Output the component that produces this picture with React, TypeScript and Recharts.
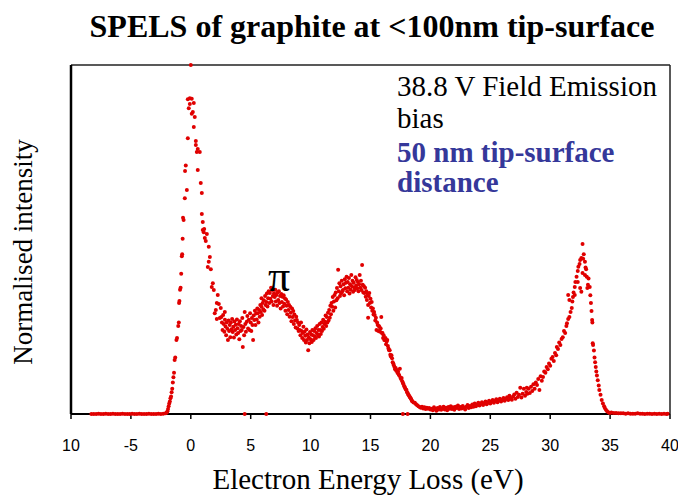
import { ScatterChart, Scatter, XAxis, YAxis, ReferenceLine } from 'recharts'

type Pt = [number, number]

// energy loss (eV), normalised intensity
const preEdge: Pt[] = [
  [-8.3, 0], [-8.1, 0], [-7.9, 0], [-7.7, 0.001], [-7.5, 0], [-7.3, 0], [-7.1, 0.001], [-6.9, 0],
  [-6.7, 0], [-6.5, 0.001], [-6.3, 0], [-6.1, 0], [-5.9, 0], [-5.7, 0.001], [-5.5, 0], [-5.3, 0],
  [-5.1, 0], [-4.9, 0.001], [-4.7, 0], [-4.5, 0], [-4.3, 0.001], [-4.1, 0], [-3.9, 0], [-3.7, 0],
  [-3.5, 0.001], [-3.3, 0], [-3.1, 0], [-2.9, 0], [-2.7, 0.001], [-2.5, 0], [-2.3, 0.001], [-2.1, 0.002],
]

const zeroLossRise: Pt[] = [
  [-2.0, 0.004], [-1.95, 0.008], [-1.9, 0.014], [-1.85, 0.022], [-1.8, 0.03], [-1.75, 0.036],
  [-1.7, 0.045], [-1.65, 0.05], [-1.6, 0.062], [-1.55, 0.072], [-1.5, 0.09], [-1.45, 0.105],
  [-1.4, 0.118], [-1.35, 0.155], [-1.3, 0.162], [-1.2, 0.212], [-1.15, 0.218], [-1.05, 0.252],
  [-1.0, 0.262], [-0.98, 0.318], [-0.95, 0.324], [-0.9, 0.356], [-0.85, 0.362], [-0.8, 0.402],
  [-0.75, 0.452], [-0.72, 0.458], [-0.68, 0.502], [-0.65, 0.562], [-0.6, 0.556], [-0.5, 0.618],
  [-0.48, 0.696], [-0.42, 0.712], [-0.33, 0.642], [-0.25, 0.79], [-0.25, 0.902], [-0.17, 0.876],
  [-0.08, 0.888], [-0.08, 0.905],
]

const zeroLossFall: Pt[] = [
  [0.0, 1.0], [0.08, 0.903], [0.08, 0.86], [0.17, 0.865], [0.25, 0.891], [0.25, 0.822],
  [0.33, 0.851], [0.42, 0.782], [0.42, 0.771], [0.5, 0.751], [0.58, 0.759], [0.58, 0.699],
  [0.75, 0.751], [0.83, 0.662], [0.92, 0.633], [0.92, 0.573], [1.0, 0.55], [1.0, 0.527],
  [1.08, 0.521], [1.12, 0.53], [1.17, 0.504], [1.25, 0.496], [1.34, 0.516], [1.42, 0.421],
  [1.5, 0.479], [1.5, 0.436], [1.59, 0.45], [1.67, 0.415], [1.75, 0.364], [1.84, 0.375],
  [1.92, 0.355], [2.0, 0.289], [2.09, 0.298], [2.17, 0.318], [2.17, 0.272], [2.25, 0.341],
  [2.34, 0.315], [2.42, 0.275], [2.5, 0.304], [2.55, 0.278], [2.84, 0.292],
]

const firstValley: Pt[] = [
  [2.6, 0.262], [2.65, 0.241], [2.7, 0.284], [2.75, 0.258], [2.8, 0.236], [2.85, 0.27],
  [2.9, 0.251], [2.95, 0.226], [3.0, 0.262], [3.05, 0.244], [3.1, 0.212], [3.15, 0.268],
  [3.2, 0.238], [3.25, 0.255], [3.3, 0.22], [3.35, 0.262], [3.4, 0.243], [3.45, 0.272],
  [3.5, 0.235], [3.55, 0.25], [3.6, 0.219], [3.65, 0.265], [3.7, 0.241], [3.75, 0.256],
  [3.8, 0.228], [3.85, 0.271], [3.9, 0.246], [3.95, 0.232], [4.0, 0.258], [4.05, 0.214],
  [4.1, 0.266], [4.15, 0.238], [4.2, 0.252], [4.25, 0.241], [4.3, 0.275], [4.34, 0.192],
  [4.4, 0.249], [4.45, 0.226], [4.5, 0.292], [4.55, 0.258], [4.6, 0.236], [4.67, 0.264],
  [4.72, 0.281], [4.78, 0.245], [4.84, 0.27], [4.9, 0.241], [4.95, 0.289], [5.0, 0.262],
  [5.05, 0.238], [5.1, 0.275], [5.15, 0.255], [5.2, 0.212],
]

const piPeak: Pt[] = [
  [5.25, 0.282], [5.3, 0.269], [5.35, 0.296], [5.4, 0.255], [5.45, 0.288], [5.5, 0.271],
  [5.55, 0.302], [5.6, 0.289], [5.65, 0.262], [5.7, 0.298], [5.75, 0.279], [5.8, 0.312],
  [5.85, 0.292], [5.9, 0.307], [5.9, 0.332], [5.95, 0.284], [6.0, 0.318], [6.05, 0.3],
  [6.1, 0.326], [6.15, 0.296], [6.2, 0.338], [6.25, 0.312], [6.3, 0.321], [6.35, 0.345],
  [6.4, 0.308], [6.45, 0.332], [6.5, 0.352], [6.55, 0.318], [6.6, 0.347], [6.65, 0.33],
  [6.7, 0.362], [6.75, 0.322], [6.8, 0.355], [6.85, 0.338], [6.9, 0.312], [6.95, 0.346],
  [7.0, 0.335], [7.05, 0.356], [7.1, 0.322], [7.15, 0.341], [7.2, 0.31], [7.25, 0.348],
  [7.3, 0.327], [7.35, 0.352], [7.4, 0.318], [7.45, 0.338], [7.5, 0.302], [7.55, 0.344],
  [7.6, 0.321], [7.65, 0.336], [7.7, 0.308], [7.75, 0.34], [7.8, 0.316], [7.85, 0.332],
  [7.9, 0.296], [7.95, 0.328], [8.0, 0.31], [8.05, 0.286], [8.1, 0.321], [8.15, 0.298],
  [8.2, 0.312], [8.25, 0.279], [8.3, 0.307], [8.35, 0.29], [8.4, 0.266], [8.45, 0.302],
  [8.5, 0.278], [8.55, 0.295], [8.6, 0.258], [8.65, 0.285], [8.7, 0.268], [8.75, 0.248],
  [8.8, 0.279], [8.85, 0.269], [8.9, 0.245], [8.95, 0.262], [9.0, 0.238],
]

const secondValley: Pt[] = [
  [9.05, 0.255], [9.1, 0.241], [9.15, 0.226], [9.2, 0.262], [9.25, 0.238], [9.3, 0.218],
  [9.35, 0.232], [9.4, 0.25], [9.45, 0.212], [9.5, 0.236], [9.55, 0.224], [9.6, 0.205],
  [9.65, 0.242], [9.7, 0.212], [9.75, 0.228], [9.8, 0.183], [9.85, 0.219], [9.9, 0.203],
  [9.95, 0.235], [10.0, 0.214], [10.05, 0.228], [10.1, 0.206], [10.15, 0.241], [10.2, 0.226],
  [10.25, 0.212], [10.3, 0.238], [10.35, 0.222], [10.4, 0.246], [10.45, 0.218], [10.5, 0.232],
  [10.55, 0.252], [10.6, 0.228], [10.65, 0.241], [10.7, 0.222], [10.75, 0.258], [10.8, 0.241],
  [10.85, 0.229], [10.9, 0.262], [10.95, 0.238], [11.0, 0.249], [11.05, 0.27], [11.1, 0.244],
  [11.15, 0.258], [11.2, 0.264], [11.25, 0.282], [11.3, 0.252], [11.35, 0.278], [11.4, 0.262],
]

const sigmaPeak: Pt[] = [
  [11.45, 0.29], [11.5, 0.268], [11.55, 0.298], [11.6, 0.276], [11.65, 0.31], [11.7, 0.286],
  [11.75, 0.318], [11.8, 0.307], [11.85, 0.335], [11.9, 0.296], [11.95, 0.322], [12.0, 0.341],
  [12.05, 0.305], [12.1, 0.348], [12.15, 0.326], [12.2, 0.361], [12.25, 0.332], [12.3, 0.413],
  [12.35, 0.352], [12.4, 0.375], [12.45, 0.338], [12.5, 0.366], [12.55, 0.346], [12.6, 0.382],
  [12.65, 0.352], [12.7, 0.355], [12.75, 0.372], [12.8, 0.34], [12.85, 0.386], [12.9, 0.36],
  [12.95, 0.376], [13.0, 0.393], [13.05, 0.352], [13.1, 0.378], [13.15, 0.362], [13.2, 0.39],
  [13.25, 0.345], [13.3, 0.372], [13.35, 0.356], [13.4, 0.398], [13.45, 0.366], [13.5, 0.382],
  [13.55, 0.35], [13.6, 0.376], [13.65, 0.362], [13.7, 0.355], [13.75, 0.392], [13.8, 0.368],
  [13.85, 0.384], [13.9, 0.36], [13.95, 0.378], [14.0, 0.352], [14.05, 0.372], [14.1, 0.398],
  [14.15, 0.362], [14.2, 0.382], [14.25, 0.355], [14.3, 0.427], [14.35, 0.37], [14.4, 0.348],
  [14.45, 0.366], [14.5, 0.347], [14.55, 0.362], [14.6, 0.336], [14.65, 0.352], [14.7, 0.327],
  [14.75, 0.345], [14.8, 0.312], [14.8, 0.276], [14.85, 0.338], [14.9, 0.347], [14.95, 0.318],
  [15.0, 0.33],
]

const sigmaFall: Pt[] = [
  [15.05, 0.305], [15.1, 0.321], [15.15, 0.296], [15.2, 0.302], [15.25, 0.285], [15.3, 0.292],
  [15.35, 0.284], [15.4, 0.268], [15.45, 0.276], [15.5, 0.241], [15.55, 0.262], [15.6, 0.255],
  [15.65, 0.238], [15.7, 0.252], [15.75, 0.249], [15.8, 0.236], [15.85, 0.245], [15.9, 0.278],
  [15.95, 0.232], [16.0, 0.232], [16.05, 0.218], [16.1, 0.226], [16.15, 0.212], [16.2, 0.212],
  [16.25, 0.218], [16.3, 0.2], [16.35, 0.208], [16.4, 0.212], [16.45, 0.195], [16.5, 0.188],
  [16.55, 0.183], [16.6, 0.183], [16.65, 0.17], [16.7, 0.165], [16.75, 0.168], [16.8, 0.16],
  [16.85, 0.148], [16.9, 0.145], [16.95, 0.14], [17.0, 0.135], [17.05, 0.128], [17.1, 0.132],
  [17.15, 0.124], [17.2, 0.126], [17.25, 0.118], [17.3, 0.122], [17.35, 0.114], [17.4, 0.11],
  [17.45, 0.13], [17.5, 0.104], [17.55, 0.1], [17.6, 0.103], [17.65, 0.094], [17.7, 0.089],
  [17.75, 0.086], [17.8, 0.08], [17.85, 0.078], [17.9, 0.074], [17.95, 0.07], [18.0, 0.069],
  [18.05, 0.062], [18.1, 0.06], [18.15, 0.056], [18.2, 0.054], [18.25, 0.05], [18.3, 0.048],
  [18.35, 0.045], [18.4, 0.042], [18.45, 0.038], [18.5, 0.036], [18.6, 0.033], [18.7, 0.032],
  [18.8, 0.028], [18.9, 0.025], [19.0, 0.022], [19.1, 0.02], [19.2, 0.018], [19.3, 0.021],
  [19.4, 0.016], [19.5, 0.019], [19.6, 0.014], [19.7, 0.018], [19.8, 0.015], [19.9, 0.017],
  [20.0, 0.013],
]

const plateau: Pt[] = [
  [20.1, 0.015], [20.2, 0.011], [20.3, 0.019], [20.4, 0.014], [20.5, 0.009], [20.6, 0.017],
  [20.7, 0.013], [20.8, 0.02], [20.9, 0.012], [21.0, 0.016], [21.1, 0.021], [21.2, 0.013],
  [21.3, 0.018], [21.4, 0.011], [21.5, 0.02], [21.6, 0.015], [21.7, 0.022], [21.8, 0.014],
  [21.9, 0.019], [22.0, 0.012], [22.1, 0.021], [22.2, 0.017], [22.3, 0.024], [22.4, 0.014],
  [22.5, 0.02], [22.6, 0.016], [22.7, 0.023], [22.8, 0.018], [22.9, 0.013], [23.0, 0.021],
  [23.1, 0.026], [23.2, 0.017], [23.3, 0.023], [23.4, 0.019], [23.5, 0.027], [23.6, 0.021],
  [23.7, 0.03], [23.8, 0.022], [23.9, 0.027], [24.0, 0.032], [24.1, 0.024], [24.2, 0.029],
  [24.3, 0.034], [24.4, 0.026], [24.5, 0.031], [24.6, 0.036], [24.7, 0.028], [24.8, 0.033],
  [24.9, 0.038], [25.0, 0.03], [25.1, 0.035], [25.2, 0.04], [25.3, 0.032], [25.4, 0.037],
  [25.5, 0.042], [25.6, 0.034], [25.7, 0.039], [25.8, 0.044], [25.9, 0.036], [26.0, 0.041],
  [26.1, 0.046], [26.2, 0.038], [26.3, 0.043], [26.4, 0.048], [26.5, 0.04], [26.6, 0.052],
  [26.7, 0.045], [26.8, 0.041], [26.9, 0.05], [27.0, 0.056], [27.1, 0.044], [27.2, 0.061],
  [27.3, 0.049], [27.4, 0.055], [27.5, 0.075], [27.6, 0.047], [27.7, 0.058], [27.8, 0.072],
  [27.9, 0.052], [28.0, 0.063],
]

const plasmonPeak: Pt[] = [
  [28.05, 0.075], [28.1, 0.058], [28.2, 0.072], [28.3, 0.06], [28.4, 0.078], [28.5, 0.066],
  [28.6, 0.085], [28.7, 0.072], [28.8, 0.09], [28.9, 0.083], [29.0, 0.1], [29.1, 0.069],
  [29.2, 0.108], [29.3, 0.095], [29.4, 0.106], [29.5, 0.122], [29.6, 0.118], [29.7, 0.135],
  [29.8, 0.128], [29.9, 0.145], [30.0, 0.138], [30.1, 0.158], [30.2, 0.163], [30.3, 0.152],
  [30.4, 0.175], [30.5, 0.168], [30.55, 0.192], [30.65, 0.186], [30.75, 0.205], [30.85, 0.198],
  [30.95, 0.215], [31.05, 0.22], [31.15, 0.238], [31.25, 0.232], [31.35, 0.252], [31.4, 0.26],
  [31.5, 0.272], [31.5, 0.341], [31.6, 0.278], [31.6, 0.327], [31.7, 0.292], [31.8, 0.304],
  [31.85, 0.322], [31.9, 0.335], [31.95, 0.348], [32.05, 0.364], [32.05, 0.341], [32.1, 0.378],
  [32.2, 0.393], [32.3, 0.378], [32.3, 0.41], [32.35, 0.422], [32.45, 0.43], [32.5, 0.441],
  [32.5, 0.361], [32.6, 0.447], [32.6, 0.35], [32.7, 0.487], [32.7, 0.404], [32.75, 0.445],
  [32.8, 0.458], [32.9, 0.436], [32.9, 0.398], [32.95, 0.42], [33.0, 0.415], [33.05, 0.393],
  [33.1, 0.361], [33.15, 0.37], [33.2, 0.388], [33.3, 0.364], [33.35, 0.34], [33.4, 0.318],
  [33.45, 0.295], [33.5, 0.269], [33.52, 0.262], [33.55, 0.203], [33.58, 0.198], [33.65, 0.182],
  [33.7, 0.162], [33.75, 0.148], [33.8, 0.135], [33.85, 0.122], [33.9, 0.11], [33.97, 0.097],
  [34.05, 0.082], [34.1, 0.069], [34.2, 0.055], [34.3, 0.04], [34.4, 0.03], [34.5, 0.022],
  [34.56, 0.017], [34.65, 0.012], [34.75, 0.008], [34.85, 0.005], [34.97, 0.003],
]

const tail: Pt[] = [
  [35.1, 0.004], [35.3, 0.003], [35.5, 0.003], [35.7, 0.002], [35.9, 0.002], [36.1, 0.002],
  [36.3, 0.001], [36.5, 0.002], [36.7, 0.001], [36.9, 0.001], [37.1, 0.001], [37.3, 0.002],
  [37.5, 0.001], [37.7, 0.001], [37.9, 0], [38.1, 0.001], [38.3, 0.001], [38.5, 0],
  [38.7, 0.001], [38.9, 0], [39.1, 0.001], [39.3, 0], [39.5, 0.001], [39.7, 0], [39.8, 0.001],
]

const strays: Pt[] = [[4.5, 0], [6.3, 0], [17.7, 0], [18.1, 0]]

const xTicks = [-10, -5, 0, 5, 10, 15, 20, 25, 30, 35, 40]
const yTicks = [0, 0.1, 0.2, 0.3, 0.4, 0.5, 0.6, 0.7, 0.8, 0.9, 1]

const spectrum = [
  ...preEdge, ...zeroLossRise, ...zeroLossFall, ...firstValley, ...piPeak, ...secondValley,
  ...sigmaPeak, ...sigmaFall, ...plateau, ...plasmonPeak, ...tail, ...strays,
].map(([energy, intensity]) => ({ energy, intensity }))

const serif = '"Liberation Serif", "Times New Roman", serif'

const Dot = (props: any) => <circle cx={props.cx} cy={props.cy} r={2} fill="#e00000" />

export default function App() {
  return (
    <div style={{ position: 'absolute', left: 0, top: 0, width: 678, height: 495, background: '#fff' }}>
      <ScatterChart width={678} height={495} margin={{ top: 65, right: 8, bottom: 0, left: 0 }}>
        <XAxis
          type="number"
          dataKey="energy"
          domain={[-10, 40]}
          ticks={xTicks}
          interval={0}
          height={81}
          tickSize={5}
          tickMargin={21}
          tickFormatter={(v: number) => (v === -10 ? '10' : String(v))}
          tick={{ fill: '#000', fontSize: 16, fontFamily: '"Liberation Sans", Arial, sans-serif' }}
          axisLine={{ stroke: '#000', strokeWidth: 2 }}
          tickLine={{ stroke: '#000', strokeWidth: 1.5 }}
        />
        <YAxis
          type="number"
          dataKey="intensity"
          domain={[0, 1]}
          ticks={yTicks}
          interval={0}
          width={71}
          tickSize={5}
          tick={false}
          axisLine={{ stroke: '#000', strokeWidth: 2.5 }}
          tickLine={{ stroke: '#000', strokeWidth: 1.5 }}
        />
        <ReferenceLine y={1} stroke="#222" strokeWidth={1.5} />
        <ReferenceLine x={40} stroke="#222" strokeWidth={1.5} />
        <Scatter data={spectrum} fill="#e00000" shape={Dot} isAnimationActive={false} />
      </ScatterChart>
      <svg
        width={678}
        height={495}
        style={{ position: 'absolute', left: 0, top: 0, pointerEvents: 'none' }}
      >
        <text x={372} y={37} textAnchor="middle" fontFamily={serif} fontWeight="bold" fontSize={32} fill="#000">
          SPELS of graphite at &lt;100nm tip-surface
        </text>
        <text x={397} y={96} fontFamily={serif} fontSize={29} fill="#000">38.8 V Field Emission</text>
        <text x={397} y={128} fontFamily={serif} fontSize={29} fill="#000">bias</text>
        <text x={397} y={162} fontFamily={serif} fontSize={29} fontWeight="bold" fill="#35389a">
          50 nm tip-surface
        </text>
        <text x={397} y={192} fontFamily={serif} fontSize={29} fontWeight="bold" fill="#35389a">
          distance
        </text>
        <text x={279} y={291} textAnchor="middle" fontFamily={serif} fontSize={44} fill="#000">π</text>
        <text x={368} y={489} textAnchor="middle" fontFamily={serif} fontSize={29} fill="#000">
          Electron Energy Loss (eV)
        </text>
        <text
          x={0}
          y={0}
          transform="translate(32 252) rotate(-90)"
          textAnchor="middle"
          fontFamily={serif}
          fontSize={27}
          fill="#000"
        >
          Normalised intensity
        </text>
      </svg>
    </div>
  )
}
